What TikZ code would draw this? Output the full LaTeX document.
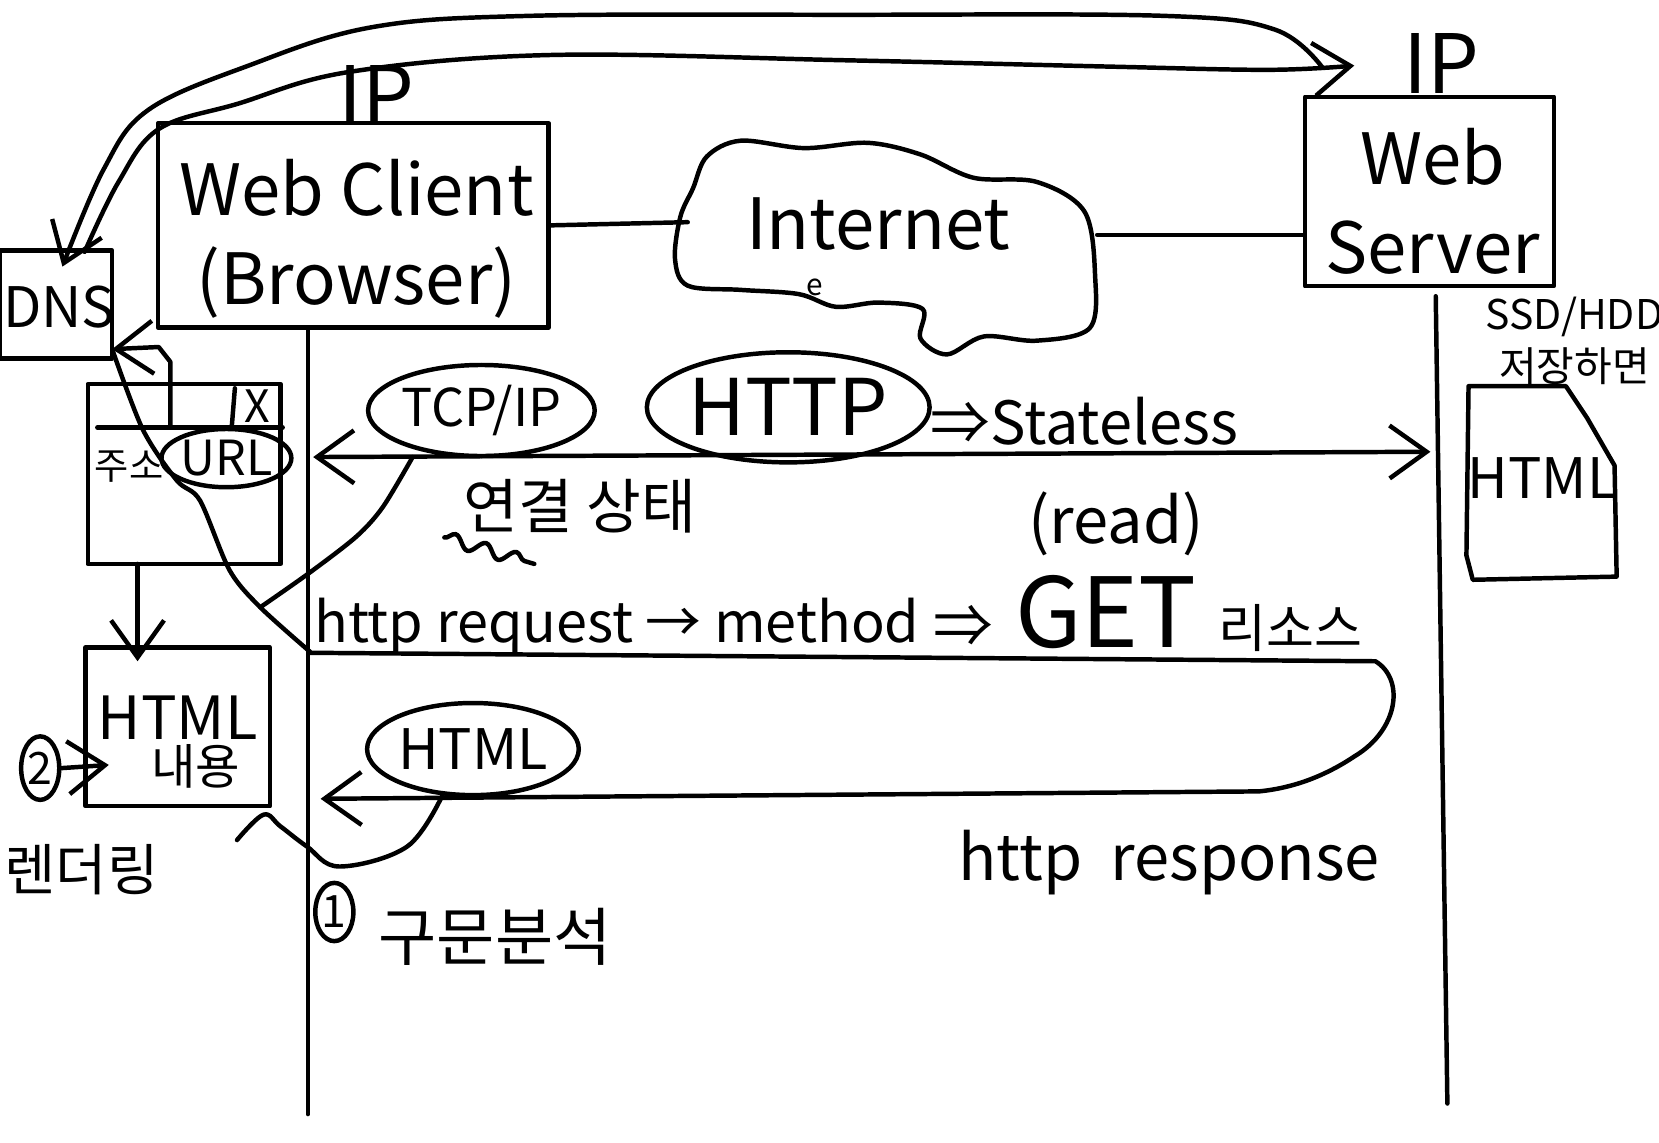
\documentclass[tikz,border=0pt]{standalone}
\usepackage{fontspec}
\setmainfont{Noto Sans CJK KR}
\usepackage{tikz}
\usetikzlibrary{arrows.meta,calc,shapes.geometric,decorations.pathmorphing}

\tikzset{
  sketch/.style={line width=1.2pt, line cap=round, line join=round},
  tip/.style={-{Straight Barb[length=3.5mm,width=5mm]}},
  box/.style={draw, sketch, rectangle, inner sep=0pt},
  bubble/.style={draw, sketch, ellipse, inner sep=0pt},
}

\begin{document}
\begin{tikzpicture}
    [x=0.01cm,y=-0.01cm,every node/.style={inner sep=0pt,align=center}]
    \useasboundingbox (0,0) rectangle (1568,1080);
    % client and server
    \node[box, minimum width=3.69cm, minimum height=1.93cm] (client) at (334,213) {};
    \node[font=\fontsize{19}{24}\selectfont] (clientlbl) at (337,226) {Web Client\\(Browser)};
    \node[font=\fontsize{22}{26}\selectfont] (clientip) at (356,90) {IP};
    \node[box, minimum width=2.35cm, minimum height=1.79cm] (server) at (1351,181) {};
    \node[font=\fontsize{19}{24}\selectfont] (serverlbl) at (1354,190) {Web\\Server};
    \node[font=\fontsize{22}{26}\selectfont] (serverip) at (1362,60) {IP};
    % internet cloud
    \draw[sketch] plot[smooth cycle, tension=0.55] coordinates {(668,148) (700,133) (760,140) (820,135) (870,146) (920,168) (980,172) (1025,200) (1035,260) (1030,310) (980,322) (930,318) (895,335) (870,320) (872,292) (830,286) (790,290) (755,278) (700,274) (650,270) (638,245) (643,205) (655,178)};
    \node[font=\fontsize{19}{24}\selectfont] (inet) at (830,212) {Internet};
    \node[font=\fontsize{8}{9}\selectfont] (mark) at (770,272) {e};
    \coordinate (inetW) at (650,210);
    \coordinate (inetE) at (1037,222);
    \draw[sketch] (client.east) -- (inetW);
    \draw[sketch] (inetE) -- (server.west |- inetE);
    % lifelines
    \coordinate (cTop) at (291,310);
    \coordinate (cEnd) at (291,1053);
    \coordinate (sTop) at (1357,280);
    \coordinate (sEnd) at (1368,1043);
    \draw[sketch] (cTop) -- (cEnd);
    \draw[sketch] (sTop) -- (sEnd);
    % dns
    \node[box, minimum width=1.06cm, minimum height=1.02cm] (dns) at (53,288) {};
    \node[font=\fontsize{15}{18}\selectfont] (dnslbl) at (56,290) {DNS};
    \coordinate (dnsTop) at (59,252);
    \coordinate (dnsOut) at (80,238);
    \coordinate (dnsIn) at (106,330);
    \coordinate (ipIn) at (1280,62);
    \coordinate (ipOut) at (1250,64);
    \draw[sketch, tip] plot[smooth, tension=0.6] coordinates {(ipOut) (1205,28) (1100,15) (800,14) (500,15) (350,26) (235,62) (140,104) (98,160) (dnsTop)};
    \draw[sketch, tip] plot[smooth, tension=0.6] coordinates {(dnsOut) (112,172) (150,122) (225,98) (330,68) (520,52) (800,57) (1050,63) (1200,66) (ipIn)};
    % browser window
    \node[box, minimum width=1.82cm, minimum height=1.70cm] (win) at (174,448) {};
    \coordinate (barL) at (92,404);
    \draw[sketch] (barL) -- (win.east |- barL);
    \coordinate (sepT) at (222,367);
    \draw[sketch] (sepT) -- (219,404);
    \node[font=\fontsize{12}{14}\selectfont] (closex) at (243,384) {X};
    \node[font=\fontsize{10}{12}\selectfont] (addr) at (122,441) {주소};
    \node[bubble, minimum width=1.02cm, minimum height=0.55cm, font=\fontsize{13}{15}\selectfont] (url) at (214,433) {URL};
    \coordinate (addrTop) at (161,404);
    \draw[sketch, tip] (addrTop) -- (161,342) -- (150,328) -- (dnsIn);
    \draw[sketch] plot[smooth, tension=0.5] coordinates {(dnsIn) (135,406) (167,454) (189,473) (217,539) (246,574) (293,616)};
    % html box
    \node[box, minimum width=1.74cm, minimum height=1.50cm] (htmlbox) at (168,687) {};
    \node[font=\fontsize{16}{19}\selectfont] (htmltxt) at (168,678) {HTML};
    \node[font=\fontsize{13}{15}\selectfont] (body) at (185,724) {내용};
    \coordinate (winArr) at (130,533);
    \draw[sketch, tip] (winArr) -- (130,625);
    \node[bubble, minimum width=0.36cm, minimum height=0.6cm, font=\fontsize{12}{14}\selectfont] (two) at (38,726) {2};
    \draw[sketch, tip] (two.east) -- ($(htmlbox.west |- two.east)+(24,-3)$);
    \node[font=\fontsize{15}{18}\selectfont] (render) at (77,822) {렌더링};
    % tcp/ip and http
    \node[bubble, minimum width=1.68cm, minimum height=0.86cm, font=\fontsize{14}{17}\selectfont] (tcpip) at (455,388) {TCP/IP};
    \node[font=\fontsize{16}{19}\selectfont] (conn) at (548,478) {연결 상태};
    \draw[sketch, decorate, decoration={snake, amplitude=0.6mm, segment length=3mm}] (420,508) -- (505,533);
    \coordinate (tcpL) at (296,432);
    \coordinate (tcpR) at (1352,427);
    \draw[sketch, {Straight Barb[length=3.5mm,width=5mm]}-{Straight Barb[length=3.5mm,width=5mm]}] (tcpL) -- (tcpR);
    \draw[sketch] plot[smooth, tension=0.5] coordinates {(390,432) (362,479) (337,507) (293,541) (246,574)};
    \node[bubble, minimum width=2.5cm, minimum height=1.04cm, font=\fontsize{21}{25}\selectfont] (http) at (745,385) {HTTP};
    \node[font=\fontsize{16}{19}\selectfont] (stateless) at (1025,398) {⇒Stateless};
    \node[font=\fontsize{17}{20}\selectfont] (readop) at (1055,495) {(read)};
    \node[font=\fontsize{26}{30}\selectfont] (getres) at (1085,580) {{\fontsize{16}{19}\selectfont ⇒} GET {\fontsize{14}{17}\selectfont 리소스}};
    % request / response
    \node[font=\fontsize{15}{18}\selectfont] (reqtxt) at (583,592) {http request → method};
    \coordinate (reqL) at (293,617);
    \coordinate (respL) at (303,755);
    \draw[sketch, tip] (reqL) -- (1300,625) .. controls (1328,642) and (1322,690) .. (1280,715) .. controls (1250,735) and (1220,745) .. (1190,748) -- (respL);
    \node[bubble, minimum width=1.75cm, minimum height=0.87cm, font=\fontsize{15}{18}\selectfont, fill=white] (htmlresp) at (447,708) {HTML};
    \draw[sketch] plot[smooth, tension=0.6] coordinates {(419,750) (385,800) (321,819) (290,800) (265,781) (249,770) (224,794)};
    \node[font=\fontsize{17}{20}\selectfont] (resptxt) at (1105,815) {http\ \ response};
    \node[bubble, minimum width=0.36cm, minimum height=0.55cm, font=\fontsize{12}{14}\selectfont] (one) at (316,862) {1};
    \node[font=\fontsize{17}{20}\selectfont] (parse) at (468,885) {구문분석};
    % stored document
    \node[font=\fontsize{11}{14}\selectfont] (store) at (1488,322) {SSD/HDD\\저장하면};
    \draw[sketch] (1388,365) -- (1480,365) -- (1500,395) -- (1526,440) -- (1528,545) -- (1392,548) -- (1386,525) -- cycle;
    \node[font=\fontsize{15}{18}\selectfont] (doctxt) at (1458,452) {HTML};
\end{tikzpicture}
\end{document}
